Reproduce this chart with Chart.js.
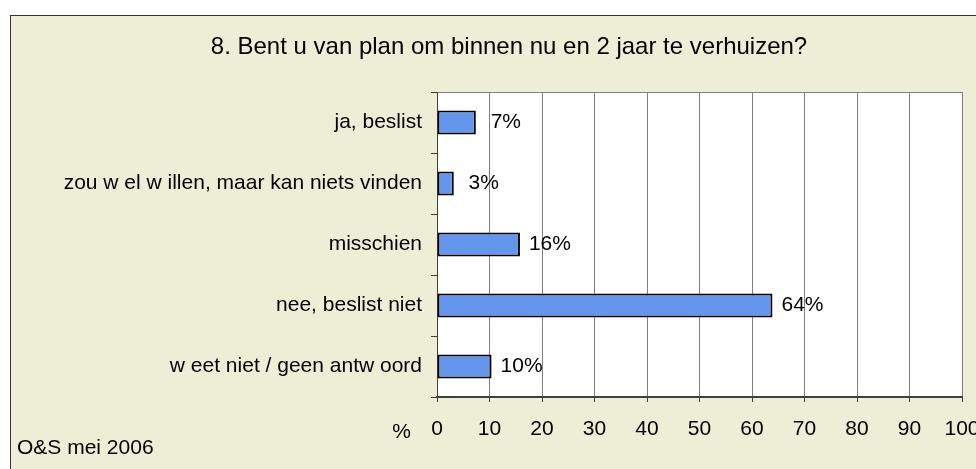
<!DOCTYPE html>
<html>
<head>
<meta charset="utf-8">
<script src="https://cdn.jsdelivr.net/npm/chart.js@4.4.0/dist/chart.umd.min.js"></script>
<style>
  html, body { margin: 0; padding: 0; background: #ffffff; overflow: hidden; width: 976px; height: 469px; }
  #box { position: absolute; left: 10px; top: 15px; width: 1000px; height: 470px;
         border: 1px solid #333333; background: #EEEED6; }
  canvas { display: block; }
</style>
</head>
<body>
<div id="box"><canvas id="myChart" width="1000" height="460"></canvas></div>
<script>
var titleText = '8. Bent u van plan om binnen nu en 2 jaar te verhuizen?';
var sourceText = 'O&S mei 2006';
var axisUnit = '%';
var categories = ['ja, beslist', 'zou w el w illen, maar kan niets vinden', 'misschien', 'nee, beslist niet', 'w eet niet / geen antw oord'];
var percentages = [7.4, 3.2, 15.8, 63.9, 10.4];
var xTicks = [0, 10, 20, 30, 40, 50, 60, 70, 80, 90, 100];

var fontFamily = 'Liberation Sans, Arial, sans-serif';
var font21 = { family: fontFamily, size: 21 };

// white plot area + gray top border, like the Excel plot area
var plotArea = {
    id: 'plotArea',
    beforeDraw: function (chart) {
        var a = chart.chartArea, c = chart.ctx;
        c.save();
        c.fillStyle = '#ffffff';
        c.fillRect(a.left, a.top, a.right - a.left, a.bottom - a.top);
        c.strokeStyle = '#808080';
        c.lineWidth = 1;
        c.beginPath();
        c.moveTo(a.left, a.top + 0.5);
        c.lineTo(a.right, a.top + 0.5);
        c.stroke();
        c.restore();
    }
};

// value labels, title, unit and source text
var texts = {
    id: 'texts',
    afterDatasetsDraw: function (chart) {
        var c = chart.ctx;
        c.save();
        c.font = '21px ' + fontFamily;
        c.fillStyle = '#000000';
        c.textBaseline = 'middle';
        c.textAlign = 'center';
        chart.getDatasetMeta(0).data.forEach(function (bar, i) {
            c.fillText(Math.round(percentages[i]) + '%', bar.x + 30, bar.y);
        });
        c.textAlign = 'right';
        c.fillText(axisUnit, 400, chart.scales.x.top + 35);
        c.textAlign = 'left';
        c.fillText(sourceText, 6, 432);
        c.font = '24px ' + fontFamily;
        c.textAlign = 'center';
        c.fillText(titleText, 498, 31);
        c.restore();
    }
};

var ctx = document.getElementById('myChart').getContext('2d');
var myChart = new Chart(ctx, {
    type: 'bar',
    data: {
        labels: categories,
        datasets: [{
            data: percentages,
            backgroundColor: '#6496EB',
            borderColor: '#000000',
            borderWidth: 2,
            borderSkipped: false,
            categoryPercentage: 1,
            barPercentage: 0.39
        }]
    },
    options: {
        indexAxis: 'y',
        responsive: false,
        animation: false,
        layout: { padding: { left: 0, right: 49, top: 76, bottom: 34 } },
        plugins: {
            legend: { display: false },
            tooltip: { enabled: false }
        },
        scales: {
            x: {
                min: 0,
                max: 100,
                afterBuildTicks: function (scale) {
                    scale.ticks = xTicks.map(function (v) { return { value: v }; });
                },
                afterFit: function (scale) { scale.height = 45; },
                ticks: { color: '#000000', font: font21, padding: 15, maxRotation: 0 },
                grid: { color: '#808080', tickColor: '#404040', tickLength: 5 },
                border: { color: '#404040', width: 2 }
            },
            y: {
                afterFit: function (scale) { scale.width = 426; },
                ticks: { color: '#000000', font: font21, padding: 9 },
                grid: { drawOnChartArea: false, offset: true, tickColor: '#404040', tickLength: 6 },
                border: { color: '#404040', width: 1 }
            }
        }
    },
    plugins: [plotArea, texts]
});
</script>
</body>
</html>
